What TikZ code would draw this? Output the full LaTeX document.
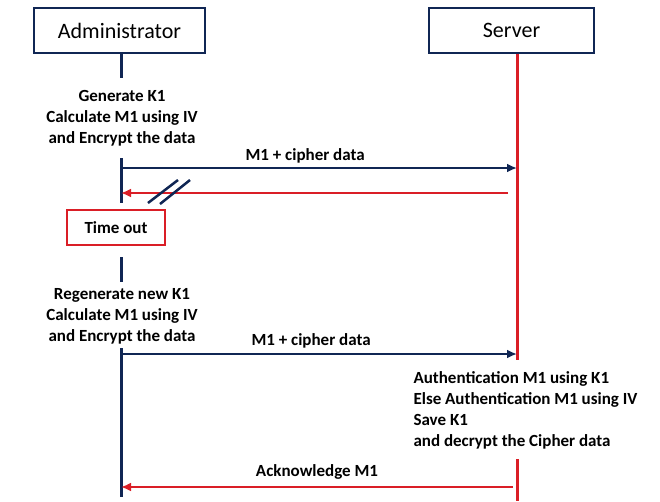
\documentclass[tikz,border=0pt]{standalone}
\usepackage{fontspec}
\setmainfont{Carlito}
\usetikzlibrary{arrows.meta}
\definecolor{navy}{RGB}{16,38,84}
\definecolor{alertred}{RGB}{218,30,38}
\tikzset{
  >={Latex[length=10pt,width=9pt]},
}
\tikzstyle{every node}=[text=black,font=\bfseries\fontsize{17}{21}\selectfont]
\tikzstyle{actor}=[draw=navy,line width=2.3pt,font=\fontsize{22}{26}\selectfont]
\tikzstyle{alert}=[draw=alertred,line width=2pt]
\tikzstyle{adminline}=[navy,line width=3pt]
\tikzstyle{serverline}=[alertred,line width=3pt]
\tikzstyle{request}=[navy,line width=2.5pt,->]
\tikzstyle{reply}=[alertred,line width=2.5pt,->]

\begin{document}
\begin{tikzpicture}[x=1pt,y=-1pt]
    \useasboundingbox (0,0) rectangle (660,501);
    \node[actor,minimum width=171pt,minimum height=45pt] (admin) at (119.5,30.5) {Administrator};
    \node[actor,minimum width=165pt,minimum height=45pt] (server) at (511.5,30.5) {Server};
    % lifelines
    \coordinate (a1) at (121,78);
    \coordinate (a2) at (121,158);
    \coordinate (a3) at (121,203);
    \coordinate (a4) at (121,257);
    \coordinate (a5) at (121,282);
    \coordinate (a6) at (121,348);
    \coordinate (a7) at (121,497);
    \coordinate (s1) at (517,360);
    \coordinate (s2) at (517,459);
    \coordinate (s3) at (517,501);
    \draw[adminline] (admin.south -| a1)--(a1);
    \draw[adminline] (a2)--(a3);
    \draw[adminline] (a4)--(a5);
    \draw[adminline] (a6)--(a7);
    \draw[serverline] (server.south -| s1)--(s1);
    \draw[serverline] (s2)--(s3);
    % steps
    \node[align=center] (gen) at (122,118) {Generate K1\\Calculate M1 using IV\\and Encrypt the data};
    \node[alert,minimum width=98pt,minimum height=35pt] (timeout) at (116,227.5) {Time out};
    \node[align=center] (regen) at (122,316) {Regenerate new K1\\Calculate M1 using IV\\and Encrypt the data};
    \node[align=left,anchor=west] (auth) at (410,410) {Authentication M1 using K1\\Else Authentication M1 using IV\\Save K1\\and decrypt the Cipher data};
    % messages
    \coordinate (m1a) at (121,168);
    \coordinate (m1s) at (517,168);
    \coordinate (m2s) at (508,193);
    \coordinate (m2a) at (121,193);
    \coordinate (m3a) at (121,354);
    \coordinate (m3s) at (517,354);
    \coordinate (m4s) at (513,487);
    \coordinate (m4a) at (121,487);
    \draw[request] (m1a)--(m1s) node[pos=.465,anchor=base,yshift=8pt]{M1 + cipher data};
    \draw[reply] (m2s)--(m2a);
    \draw[navy,line width=2.5pt] (148,203)--(178,180);
    \draw[navy,line width=2.5pt] (160,204)--(190,180);
    \draw[request] (m3a)--(m3s) node[pos=.48,anchor=base,yshift=9pt]{M1 + cipher data};
    \draw[reply] (m4s)--(m4a) node[midway,anchor=base,yshift=11pt]{Acknowledge M1};
  \end{tikzpicture}
\end{document}
